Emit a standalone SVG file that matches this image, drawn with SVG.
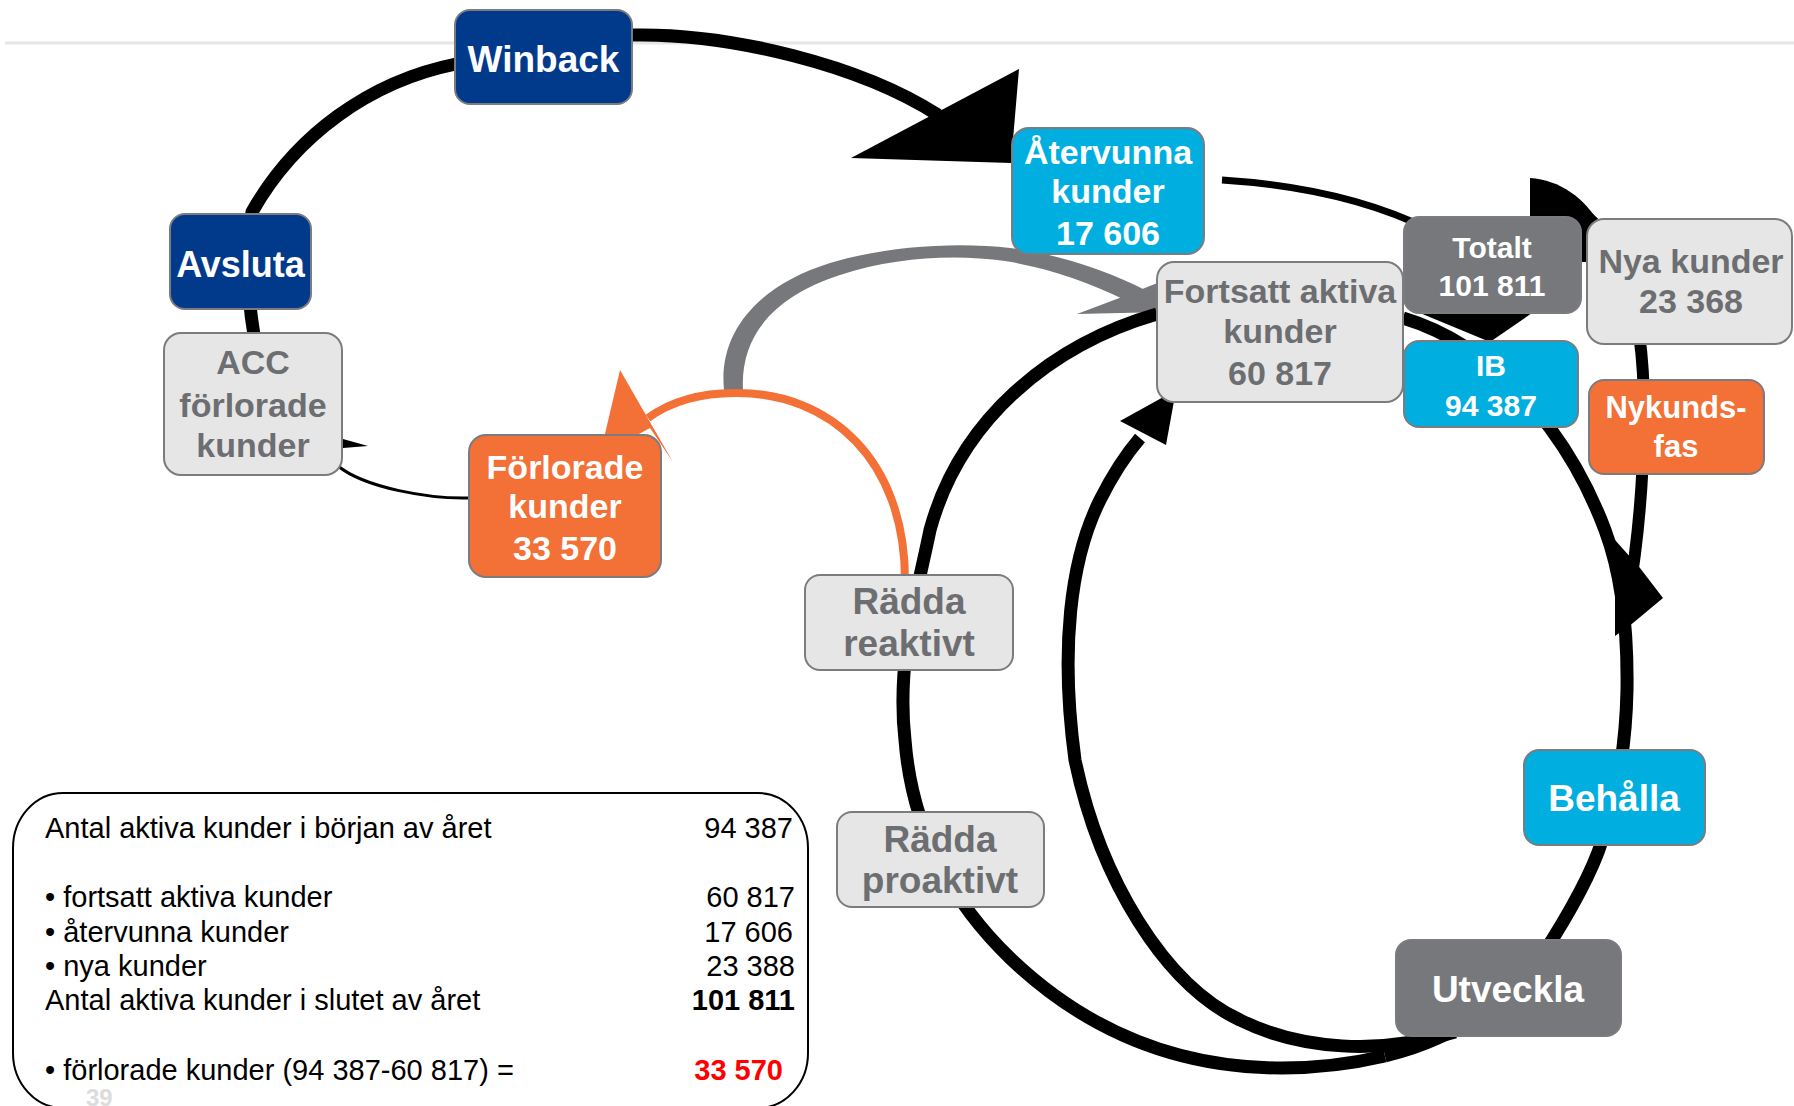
<svg xmlns="http://www.w3.org/2000/svg" width="1794" height="1106" viewBox="0 0 1794 1106">
<style>
.box{stroke:#7b7c7f;stroke-width:2}
.blue{fill:#023a8b}.cyan{fill:#00afe0}.orange{fill:#f37037}.dgrey{fill:#77787b}.lgrey{fill:#e6e6e6}
.tw{fill:#ffffff;font-family:"Liberation Sans",Arial,sans-serif;font-weight:bold;text-anchor:middle}
.tg{fill:#6d6e71;font-family:"Liberation Sans",Arial,sans-serif;font-weight:bold;text-anchor:middle}
.lg{fill:#000;font-family:"Liberation Sans",Arial,sans-serif;font-size:29px}
.num{text-anchor:end}
.red{fill:#ff0000;font-weight:bold}
.blk{fill:none;stroke:#000;stroke-linecap:butt}
</style>
<rect width="1794" height="1106" fill="#ffffff"/>
<line x1="5" y1="43" x2="1794" y2="43" stroke="#e6e6e6" stroke-width="3"/>

<g id="connectors">
  <path class="blk" stroke-width="13" d="M 254,335 Q 243,270 252,212 A 303 303 0 0 1 456,64 L 632,35"/>
  <path class="blk" stroke-width="13" d="M 632,35 C 730,33 860,65 938,115"/>
  <polygon points="1019,69 1011,163 851,158" fill="#000"/>
  <path class="blk" stroke-width="3" d="M 469,498 C 430,499 365,488 338,466"/>
  <polygon points="343,439 368,446 343,448" fill="#000"/>
  <path fill="#77787b" d="M 724,390 C 718,330 760,285 830,263 C 890,245 960,242 1010,248 C 1060,254 1110,272 1145,290 L 1125,300 C 1090,283 1050,268 1005,261 C 955,254 895,257 840,275 C 775,296 740,335 743,390 Z"/>
  <polygon points="1122,297 1077,314 1165,312 1160,282" fill="#77787b"/>
  <path fill="none" stroke="#f37037" stroke-width="8" d="M 905,580 C 905,460 830,392 735,393 C 700,393 670,402 648,418"/>
  <polygon points="620,370 673,462 650,428 600,455" fill="#f37037"/>
  <path class="blk" stroke-width="13" d="M 1157,314 C 1050,345 960,420 930,530 C 918,590 896,660 905,740 C 912,830 950,900 1010,958 C 1080,1025 1170,1068 1282,1068 C 1320,1068 1355,1063 1385,1056"/>
  <path class="blk" stroke-width="13" d="M 1385,1056 C 1470,1035 1520,990 1552,940 C 1580,895 1598,860 1605,830 C 1618,790 1626,740 1627,690 C 1628,620 1620,570 1605,530 C 1590,490 1570,455 1550,428 C 1510,375 1460,335 1403,318"/>
  <path class="blk" stroke-width="13" d="M 1455,1032 C 1380,1055 1300,1050 1240,1020 C 1165,985 1100,880 1075,760 C 1060,650 1070,560 1100,500 C 1115,470 1128,452 1140,438"/>
  <polygon points="1120,421 1176,390 1166,445" fill="#000"/>
  <path class="blk" stroke-width="7" d="M 1222,180 C 1300,185 1370,200 1430,230"/>
  <polygon points="1420,313 1532,313 1490,342" fill="#000"/>
  <path d="M 1530,178 C 1560,180 1585,198 1600,225 L 1600,262 L 1530,262 Z" fill="#000"/>
  <path class="blk" stroke-width="12" d="M 1560,200 C 1620,225 1645,300 1644,420 C 1643,500 1635,560 1628,600"/>
  <polygon points="1615,540 1640,568 1663,598 1633,623 1615,636" fill="#000"/>
</g>

<g id="node-winback"><rect class="box blue" x="455" y="10" width="177" height="94" rx="15"/><text class="tw" x="543.5" y="72" font-size="37">Winback</text></g>
<g id="node-avsluta"><rect class="box blue" x="170" y="214" width="141" height="95" rx="15"/><text class="tw" x="240.5" y="277" font-size="36">Avsluta</text></g>
<g id="node-acc"><rect class="box lgrey" x="164" y="333" width="178" height="142" rx="17"/><text class="tg" x="253" y="374" font-size="34">ACC</text><text class="tg" x="253" y="417" font-size="34">förlorade</text><text class="tg" x="253" y="457" font-size="34">kunder</text></g>
<g id="node-forlorade"><rect class="box orange" x="469" y="435" width="192" height="142" rx="17"/><text class="tw" x="565" y="479" font-size="34">Förlorade</text><text class="tw" x="565" y="518" font-size="34">kunder</text><text class="tw" x="565" y="560" font-size="34">33 570</text></g>
<g id="node-atervunna"><rect class="box cyan" x="1012" y="128" width="192" height="126" rx="17"/><text class="tw" x="1108" y="164" font-size="34">Återvunna</text><text class="tw" x="1108" y="203" font-size="34">kunder</text><text class="tw" x="1108" y="245" font-size="34">17 606</text></g>
<g id="node-fortsatt"><rect class="box lgrey" x="1157" y="262" width="246" height="140" rx="17"/><text class="tg" x="1280" y="303" font-size="34">Fortsatt aktiva</text><text class="tg" x="1280" y="343" font-size="34">kunder</text><text class="tg" x="1280" y="385" font-size="34">60 817</text></g>
<g id="node-totalt"><rect class="box dgrey" x="1404" y="217" width="177" height="96" rx="15"/><text class="tw" x="1492" y="258" font-size="30">Totalt</text><text class="tw" x="1492" y="296" font-size="30">101 811</text></g>
<g id="node-ib"><rect class="box cyan" x="1404" y="341" width="174" height="86" rx="15"/><text class="tw" x="1491" y="376" font-size="30">IB</text><text class="tw" x="1491" y="416" font-size="30">94 387</text></g>
<g id="node-nya"><rect class="box lgrey" x="1587" y="219" width="205" height="125" rx="17"/><text class="tg" x="1691" y="273" font-size="34">Nya kunder</text><text class="tg" x="1691" y="313" font-size="34">23 368</text></g>
<g id="node-nykundsfas"><rect class="box orange" x="1589" y="380" width="175" height="94" rx="15"/><text class="tw" x="1676" y="418" font-size="31">Nykunds-</text><text class="tw" x="1676" y="457" font-size="31">fas</text></g>
<g id="node-reaktivt"><rect class="box lgrey" x="805" y="575" width="208" height="95" rx="15"/><text class="tg" x="909" y="614" font-size="37">Rädda</text><text class="tg" x="909" y="656" font-size="37">reaktivt</text></g>
<g id="node-proaktivt"><rect class="box lgrey" x="837" y="812" width="207" height="95" rx="15"/><text class="tg" x="940" y="852" font-size="37">Rädda</text><text class="tg" x="940" y="893" font-size="37">proaktivt</text></g>
<g id="node-behalla"><rect class="box cyan" x="1524" y="750" width="181" height="95" rx="15"/><text class="tw" x="1614" y="811" font-size="37">Behålla</text></g>
<g id="node-utveckla"><rect class="box dgrey" x="1396" y="940" width="225" height="96" rx="15"/><text class="tw" x="1508" y="1002" font-size="37">Utveckla</text></g>

<g id="legend">
  <rect x="13" y="793" width="795" height="315" rx="50" ry="55" fill="#ffffff" stroke="#000" stroke-width="2"/>
  <text class="lg" x="45" y="838">Antal aktiva kunder i början av året</text>
  <text class="lg num" x="793" y="838">94 387</text>
  <text class="lg" x="45" y="907">• fortsatt aktiva kunder</text>
  <text class="lg num" x="795" y="907">60 817</text>
  <text class="lg" x="45" y="942">• återvunna kunder</text>
  <text class="lg num" x="793" y="942">17 606</text>
  <text class="lg" x="45" y="976">• nya kunder</text>
  <text class="lg num" x="795" y="976">23 388</text>
  <text class="lg" x="45" y="1010">Antal aktiva kunder i slutet av året</text>
  <text class="lg num" x="795" y="1010" font-weight="bold">101 811</text>
  <text class="lg" x="45" y="1080">• förlorade kunder (94 387-60 817) =</text>
  <text class="lg num red" x="783" y="1080">33 570</text>
  <text x="86" y="1106" font-family="Liberation Sans, Arial, sans-serif" font-weight="bold" font-size="24" fill="#dcdcdc">39</text>
</g>
</svg>
